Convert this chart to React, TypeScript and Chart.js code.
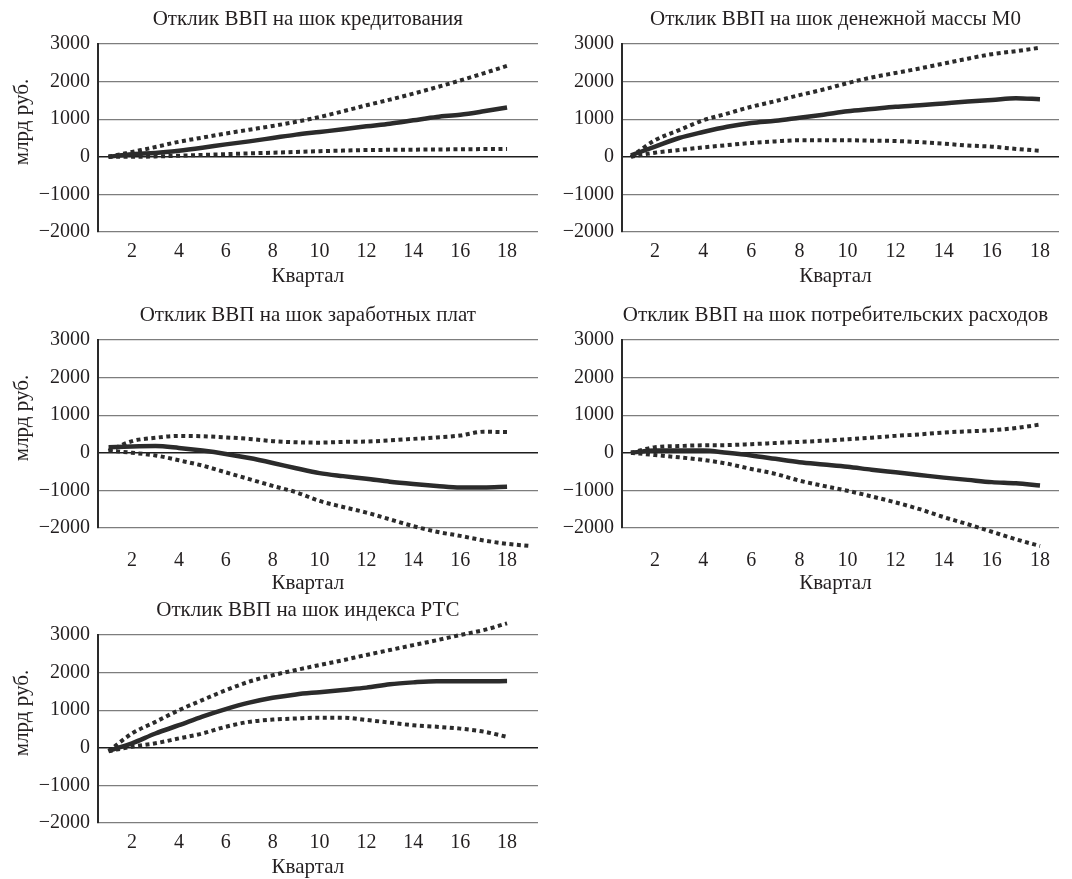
import React, { useEffect, useRef } from "react";
import { Chart, registerables } from "chart.js";

Chart.register(...registerables);

// ---------- data ----------
const quarters = [1, 2, 3, 4, 5, 6, 7, 8, 9, 10, 11, 12, 13, 14, 15, 16, 17, 18, 19];
const xTickValues = [2, 4, 6, 8, 10, 12, 14, 16, 18];
const yTickMin = -2000;
const yTickMax = 3000;
const yTickStep = 1000;

const xAxisTitle = "Квартал";
const yAxisTitle = "млрд руб.";

const panelTitles = [
  "Отклик ВВП на шок кредитования",
  "Отклик ВВП на шок денежной массы М0",
  "Отклик ВВП на шок заработных плат",
  "Отклик ВВП на шок потребительских расходов",
  "Отклик ВВП на шок индекса РТС",
];

const creditIrf = [0, 70, 100, 160, 240, 330, 410, 500, 590, 660, 730, 810, 880, 970, 1060, 1120, 1210, 1310];
const creditUpper = [0, 130, 260, 400, 510, 620, 720, 820, 930, 1060, 1210, 1370, 1520, 1680, 1850, 2030, 2220, 2420];
const creditLower = [0, 0, 10, 30, 50, 70, 90, 110, 130, 150, 165, 180, 185, 190, 195, 200, 205, 210];

const m0Irf = [40, 270, 500, 660, 800, 900, 960, 1040, 1120, 1210, 1270, 1330, 1370, 1420, 1470, 1510, 1560, 1530];
const m0Upper = [0, 440, 710, 970, 1150, 1330, 1480, 1640, 1790, 1960, 2110, 2230, 2350, 2480, 2610, 2730, 2810, 2900];
const m0Lower = [0, 110, 180, 250, 310, 370, 410, 440, 440, 440, 430, 420, 390, 350, 300, 270, 210, 160];

const wageIrf = [150, 170, 180, 130, 60, -30, -140, -270, -410, -540, -620, -690, -770, -830, -880, -920, -920, -900];
const wageUpper = [50, 310, 400, 450, 440, 410, 370, 310, 280, 270, 290, 300, 330, 370, 410, 460, 560, 550];
const wageLower = [60, 0, -70, -200, -340, -520, -700, -880, -1050, -1280, -1440, -1590, -1770, -1950, -2100, -2210, -2330, -2420, -2480];

const consIrf = [0, 60, 60, 60, 0, -70, -160, -250, -310, -370, -450, -520, -590, -660, -720, -780, -810, -870];
const consUpper = [0, 150, 180, 200, 205, 230, 260, 290, 320, 360, 400, 450, 490, 540, 570, 600, 660, 750];
const consLower = [0, -60, -120, -190, -290, -430, -560, -740, -880, -1010, -1160, -1320, -1500, -1710, -1900, -2100, -2300, -2480];

const rtsIrf = [-80, 120, 380, 600, 830, 1030, 1200, 1330, 1420, 1480, 1540, 1600, 1690, 1740, 1770, 1770, 1770, 1775];
const rtsUpper = [-90, 380, 690, 1000, 1270, 1530, 1760, 1930, 2070, 2200, 2330, 2470, 2600, 2730, 2860, 3000, 3130, 3310];
const rtsLower = [-90, 30, 120, 250, 380, 560, 690, 750, 780, 800, 800, 740, 670, 600, 560, 510, 430, 290];

const panelSeries = [
  [creditIrf, creditUpper, creditLower],
  [m0Irf, m0Upper, m0Lower],
  [wageIrf, wageUpper, wageLower],
  [consIrf, consUpper, consLower],
  [rtsIrf, rtsUpper, rtsLower],
];

// ---------- layout / style ----------
const FONT = "'Liberation Serif', 'Times New Roman', serif";
const TEXT = "#231f20";
const LINE = "#2b2b2b";

type Layout = {
  left: number;
  top: number;
  width: number;
  height: number;
  showY: boolean;
  xMin: number;
  xMax: number;
  rightPad: number;
  tickPad: number;
  xTitleOffset: number;
};

const layouts: Layout[] = [
  { left: 0, top: 0, width: 540, height: 290, showY: true, xMin: 0.549, xMax: 19.32, rightPad: 2, tickPad: 8, xTitleOffset: 50 },
  { left: 524, top: 0, width: 548, height: 290, showY: false, xMin: 0.628, xMax: 18.79, rightPad: 13, tickPad: 8, xTitleOffset: 50 },
  { left: 0, top: 296, width: 540, height: 304, showY: true, xMin: 0.549, xMax: 19.32, rightPad: 2, tickPad: 21, xTitleOffset: 61 },
  { left: 524, top: 296, width: 548, height: 304, showY: false, xMin: 0.628, xMax: 18.79, rightPad: 13, tickPad: 21, xTitleOffset: 61 },
  { left: 0, top: 591, width: 540, height: 288, showY: true, xMin: 0.549, xMax: 19.32, rightPad: 2, tickPad: 8, xTitleOffset: 50 },
];

const PLOT_TOP = 44;
const PLOT_H = 188;
const Y_AXIS_W = 98;

const panelText = {
  id: "panelText",
  afterDraw(chart: any, _args: any, opts: any) {
    const { ctx, chartArea } = chart;
    const xs = chart.scales.x;
    const cx = xs.getPixelForValue(9.5);
    ctx.save();
    ctx.fillStyle = TEXT;
    ctx.font = `${opts.titleSize}px ${FONT}`;
    ctx.textAlign = "center";
    ctx.textBaseline = "alphabetic";
    ctx.fillText(opts.title, cx, chartArea.top - 19);
    ctx.fillText(opts.xTitle, cx, chartArea.bottom + opts.xTitleOffset);
    if (opts.yTitle) {
      ctx.translate(22, chartArea.top + 78);
      ctx.rotate(-Math.PI / 2);
      ctx.textBaseline = "middle";
      ctx.fillText(opts.yTitle, 0, 0);
    }
    ctx.restore();
  },
};

function Panel({ idx }: { idx: number }) {
  const ref = useRef<HTMLCanvasElement | null>(null);
  const lay = layouts[idx];
  useEffect(() => {
    if (!ref.current) return;
    const [irf, upper, lower] = panelSeries[idx];
    const toPts = (arr: number[]) => arr.map((v, i) => ({ x: quarters[i], y: v }));
    const base = {
      pointRadius: 0,
      borderColor: LINE,
      cubicInterpolationMode: "monotone" as const,
      clip: false as any,
      fill: false,
    };
    const dotted = { borderWidth: 4, borderDash: [4, 3.5], borderCapStyle: "butt" as const };
    const chart = new Chart(ref.current, {
      type: "line",
      data: {
        datasets: [
          { ...base, data: toPts(irf), borderWidth: 4.5 },
          { ...base, ...dotted, data: toPts(upper) },
          { ...base, ...dotted, data: toPts(lower) },
        ],
      },
      plugins: [panelText],
      options: {
        animation: false,
        responsive: false,
        devicePixelRatio: 1,
        layout: { padding: { top: PLOT_TOP, right: lay.rightPad, bottom: 0, left: 0 } },
        plugins: {
          legend: { display: false },
          tooltip: { enabled: false },
          panelText: {
            title: panelTitles[idx],
            xTitle: xAxisTitle,
            yTitle: lay.showY ? yAxisTitle : "",
            titleSize: 21,
            xTitleOffset: lay.xTitleOffset,
          },
        } as any,
        scales: {
          x: {
            type: "linear",
            min: lay.xMin,
            max: lay.xMax,
            grid: { display: false, drawTicks: false },
            border: { display: false },
            afterBuildTicks: (scale: any) => {
              scale.ticks = xTickValues.map((v) => ({ value: v }));
            },
            afterFit: (scale: any) => {
              scale.height = lay.height - PLOT_TOP - PLOT_H;
            },
            ticks: {
              padding: lay.tickPad,
              autoSkip: false,
              maxRotation: 0,
              color: TEXT,
              font: { family: FONT, size: 20 },
              callback: (v: any) => String(v),
            },
          },
          y: {
            type: "linear",
            min: yTickMin,
            max: yTickMax,
            afterFit: (scale: any) => {
              scale.width = Y_AXIS_W;
            },
            grid: {
              drawTicks: false,
              color: (c: any) => (c.tick && c.tick.value === 0 ? "#1e1e1e" : "#7d7d7d"),
              lineWidth: (c: any) => (c.tick && c.tick.value === 0 ? 1.6 : 1.3),
            },
            border: { display: true, color: "#2a2a2a", width: 2 },
            ticks: {
              stepSize: yTickStep,
              padding: 8,
              color: TEXT,
              font: { family: FONT, size: 20 },
              callback: (v: any) => (Number(v) < 0 ? "\u2212" + Math.abs(Number(v)) : String(v)),
            },
          },
        },
      },
    });
    return () => chart.destroy();
  }, [idx]);
  return (
    <canvas
      ref={ref}
      width={lay.width}
      height={lay.height}
      style={{ position: "absolute", left: lay.left, top: lay.top, width: lay.width, height: lay.height }}
    />
  );
}

export default function App() {
  return (
    <div style={{ position: "fixed", left: 0, top: 0, width: 1072, height: 879, background: "#fff", overflow: "hidden" }}>
      {layouts.map((_, i) => (
        <Panel key={i} idx={i} />
      ))}
    </div>
  );
}
